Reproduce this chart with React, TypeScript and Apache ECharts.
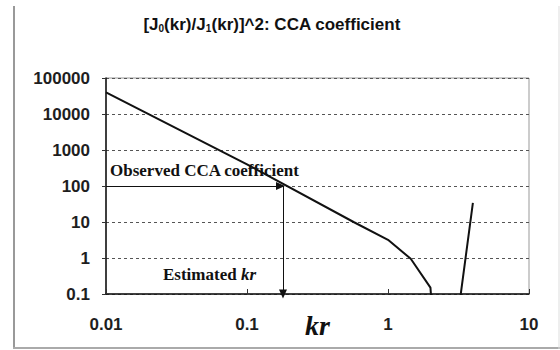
import React, { useEffect, useRef } from "react";
import * as echarts from "echarts";

const krValues = [0.01, 0.1, 0.57, 1, 1.45, 2, 2.4, 4.0];
const ccaValues = [40000, 400, 10, 3.2, 0.95, 0.15, 0.00001, 34];
const yTickLabels = ["0.1", "1", "10", "100", "1000", "10000", "100000"];
const xTickLabels = ["0.01", "0.1", "1", "10"];
const observedCCA = 100;
const estimatedKr = 0.18;

export default function App() {
  const ref = useRef<HTMLDivElement>(null);
  useEffect(() => {
    if (!ref.current) return;
    const chart = echarts.init(ref.current, null, { renderer: "svg" });
    const labelFont = {
      fontFamily: "Liberation Sans, Arial, sans-serif",
      fontSize: 17,
      fontWeight: "bold" as const,
      color: "#1e1e1e",
    };
    const serif = "Liberation Serif, Times New Roman, serif";
    chart.setOption({
      animation: false,
      backgroundColor: "#fff",
      title: {
        text: "[J{sub|0}(kr)/J{sub|1}(kr)]^2: CCA coefficient",
        left: 267,
        top: 11,
        textAlign: "center",
        textStyle: {
          fontFamily: "Liberation Sans, Arial, sans-serif",
          fontSize: 17,
          fontWeight: "bold",
          color: "#111",
          rich: {
            sub: {
              fontFamily: "Liberation Sans, Arial, sans-serif",
              fontSize: 10,
              fontWeight: "bold",
              color: "#111",
              verticalAlign: "bottom",
            },
          },
        },
      },
      grid: {
        left: 106,
        top: 78,
        right: 31,
        bottom: 56,
        containLabel: false,
        outerBoundsMode: "none",
        show: true,
        borderColor: "#999",
        borderWidth: 1,
      },
      xAxis: {
        type: "log",
        logBase: 10,
        min: 0.01,
        max: 10,
        name: "kr",
        nameLocation: "middle",
        nameGap: 31,
        nameMoveOverlap: false,
        nameTextStyle: {
          fontFamily: serif,
          fontSize: 28,
          fontWeight: "bold",
          fontStyle: "italic",
          color: "#111",
          verticalAlign: "middle",
        },
        axisLine: { show: true, lineStyle: { color: "#111", width: 1.5 } },
        axisTick: { show: true, inside: true, length: 5, lineStyle: { color: "#333" } },
        splitLine: { show: false },
        minorTick: { show: false },
        axisLabel: {
          ...labelFont,
          margin: 22,
          formatter: (v: number) => xTickLabels[Math.round(Math.log10(v)) + 2] ?? "",
        },
      },
      yAxis: {
        type: "log",
        logBase: 10,
        min: 0.1,
        max: 100000,
        axisLine: { show: true, lineStyle: { color: "#111", width: 1.5 } },
        axisTick: { show: true, inside: false, length: 4, lineStyle: { color: "#333" } },
        splitLine: { show: true, lineStyle: { color: "#555", type: [3, 3], width: 1 } },
        axisLabel: {
          ...labelFont,
          margin: 16,
          formatter: (v: number) => yTickLabels[Math.round(Math.log10(v)) + 1] ?? "",
        },
      },
      series: [
        {
          type: "line",
          data: krValues.map((k, i) => [k, ccaValues[i]]),
          symbol: "none",
          clip: true,
          lineStyle: { color: "#111", width: 2 },
          markLine: {
            silent: true,
            symbol: ["none", "triangle"],
            symbolSize: [8, 9],
            label: { show: false },
            lineStyle: { color: "#111", width: 1, type: "solid" },
            data: [
              [
                { coord: [0.01, observedCCA], symbol: "none" },
                { coord: [estimatedKr * 0.96, observedCCA], symbol: "triangle", symbolRotate: -90 },
              ],
              [
                { coord: [estimatedKr, observedCCA], symbol: "none" },
                { coord: [estimatedKr, 0.1], symbol: "triangle", symbolRotate: 180 },
              ],
            ],
          },
        },
      ],
      graphic: [
        {
          type: "line",
          shape: { x1: 14, y1: 6, x2: 14, y2: 349 },
          style: { stroke: "#999", lineWidth: 2 },
        },
        {
          type: "line",
          shape: { x1: 13, y1: 348, x2: 560, y2: 348 },
          style: { stroke: "#aaa", lineWidth: 2 },
        },
        {
          type: "line",
          shape: { x1: 559, y1: 6, x2: 559, y2: 349 },
          style: { stroke: "#ddd", lineWidth: 1 },
        },
        {
          type: "text",
          x: 110,
          y: 170,
          style: {
            text: "Observed CCA coefficient",
            fontFamily: serif,
            fontSize: 17,
            fontWeight: "bold",
            fill: "#111",
            verticalAlign: "middle",
          },
        },
        {
          type: "text",
          x: 163,
          y: 274,
          style: {
            text: "Estimated {i|kr}",
            fontFamily: serif,
            fontSize: 17,
            fontWeight: "bold",
            fill: "#111",
            verticalAlign: "middle",
            rich: {
              i: {
                fontFamily: serif,
                fontSize: 17,
                fontWeight: "bold",
                fontStyle: "italic",
                fill: "#111",
              },
            },
          },
        },
      ],
    });
    return () => chart.dispose();
  }, []);
  return (
    <div
      ref={ref}
      style={{ position: "absolute", left: 0, top: 0, width: 560, height: 350 }}
    />
  );
}
